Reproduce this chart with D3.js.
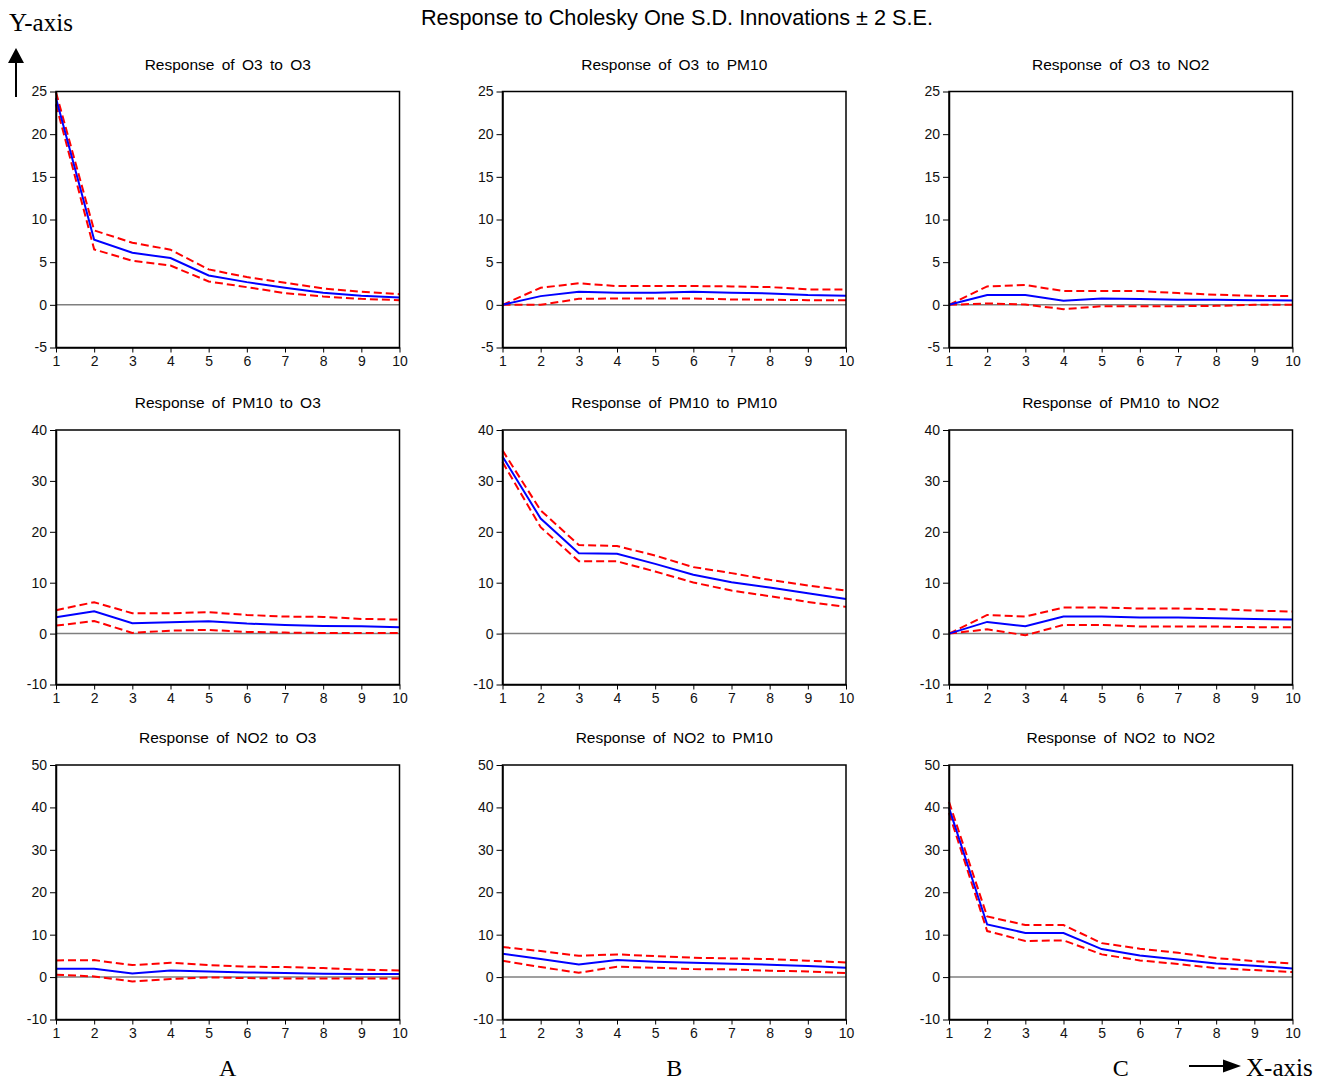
<!DOCTYPE html>
<html>
<head>
<meta charset="utf-8">
<script src="https://cdn.jsdelivr.net/npm/d3@7"></script>
<style>
  body { margin: 0; background: #fff; }
  svg { display: block; }
</style>
</head>
<body>
<svg id="chart" width="1320" height="1081"></svg>
<script>
// Impulse responses (Cholesky, one S.D.) with +/- 2 S.E. bands
const periods = [1, 2, 3, 4, 5, 6, 7, 8, 9, 10];

const o3_o3     = [24.2, 7.63, 6.1, 5.48, 3.44, 2.66, 2.0, 1.41, 1.06, 0.86];
const o3_o3_hi  = [24.9, 8.72, 7.28, 6.46, 4.15, 3.25, 2.58, 1.92, 1.53, 1.25];
const o3_o3_lo  = [23.5, 6.5, 5.16, 4.6, 2.74, 2.07, 1.37, 0.98, 0.7, 0.55];

const o3_pm     = [0, 1.02, 1.53, 1.42, 1.42, 1.53, 1.42, 1.34, 1.14, 1.06];
const o3_pm_hi  = [0, 2.0, 2.52, 2.2, 2.2, 2.2, 2.16, 2.08, 1.81, 1.81];
const o3_pm_lo  = [0, 0.0, 0.7, 0.75, 0.75, 0.75, 0.63, 0.59, 0.55, 0.55];

const o3_no2    = [0, 1.14, 1.14, 0.47, 0.75, 0.67, 0.59, 0.59, 0.55, 0.51];
const o3_no2_hi = [0, 2.16, 2.32, 1.61, 1.61, 1.61, 1.38, 1.18, 1.06, 1.02];
const o3_no2_lo = [0, 0.16, 0.04, -0.51, -0.16, -0.16, -0.16, -0.12, 0.0, 0.0];

const pm_o3     = [3.2, 4.4, 2.03, 2.23, 2.43, 1.97, 1.71, 1.51, 1.44, 1.25];
const pm_o3_hi  = [4.6, 6.17, 4.0, 4.0, 4.2, 3.67, 3.35, 3.28, 2.89, 2.76];
const pm_o3_lo  = [1.57, 2.49, 0.13, 0.59, 0.72, 0.33, 0.2, 0.13, 0.13, 0.13];

const pm_pm     = [34.8, 22.6, 15.8, 15.7, 13.7, 11.55, 10.1, 9.06, 7.94, 6.82];
const pm_pm_hi  = [36.0, 24.2, 17.4, 17.2, 15.35, 13.06, 11.88, 10.56, 9.45, 8.46];
const pm_pm_lo  = [33.7, 20.9, 14.2, 14.2, 12.2, 10.04, 8.46, 7.35, 6.23, 5.25];

const pm_no2    = [0, 2.3, 1.44, 3.35, 3.35, 3.15, 3.15, 3.02, 2.89, 2.76];
const pm_no2_hi = [0, 3.67, 3.35, 5.12, 5.12, 4.92, 4.92, 4.79, 4.53, 4.33];
const pm_no2_lo = [0, 0.85, -0.33, 1.71, 1.71, 1.38, 1.38, 1.38, 1.25, 1.25];

const no2_o3     = [1.97, 1.97, 0.86, 1.57, 1.34, 1.1, 0.94, 0.79, 0.71, 0.71];
const no2_o3_hi  = [3.93, 4.0, 2.83, 3.38, 2.83, 2.44, 2.36, 2.12, 1.73, 1.57];
const no2_o3_lo  = [0.55, 0.16, -1.02, -0.47, -0.08, -0.24, -0.31, -0.31, -0.31, -0.31];

const no2_pm     = [5.5, 4.25, 2.99, 4.0, 3.62, 3.38, 3.14, 2.91, 2.6, 2.2];
const no2_pm_hi  = [7.08, 6.13, 5.03, 5.35, 4.95, 4.56, 4.4, 4.25, 3.85, 3.46];
const no2_pm_lo  = [3.85, 2.36, 1.02, 2.44, 2.2, 1.89, 1.81, 1.49, 1.34, 0.94];

const no2_no2    = [39.9, 12.4, 10.4, 10.4, 6.6, 5.1, 4.17, 3.22, 2.67, 2.04];
const no2_no2_hi = [41.3, 14.3, 12.26, 12.26, 8.0, 6.68, 5.74, 4.48, 3.77, 3.22];
const no2_no2_lo = [38.7, 10.85, 8.5, 8.65, 5.35, 3.93, 3.07, 2.12, 1.65, 1.18];

const variables = ['O3', 'PM10', 'NO2'];
const rowDomains = [[-5, 25], [-10, 40], [-10, 50]];
const rowTicks = [[-5, 0, 5, 10, 15, 20, 25], [-10, 0, 10, 20, 30, 40], [-10, 0, 10, 20, 30, 40, 50]];
const columnLabels = ['A', 'B', 'C'];

const mid = [[o3_o3, o3_pm, o3_no2], [pm_o3, pm_pm, pm_no2], [no2_o3, no2_pm, no2_no2]];
const hi  = [[o3_o3_hi, o3_pm_hi, o3_no2_hi], [pm_o3_hi, pm_pm_hi, pm_no2_hi], [no2_o3_hi, no2_pm_hi, no2_no2_hi]];
const lo  = [[o3_o3_lo, o3_pm_lo, o3_no2_lo], [pm_o3_lo, pm_pm_lo, pm_no2_lo], [no2_o3_lo, no2_pm_lo, no2_no2_lo]];

// layout of the 3x3 grid
const colLeft = [56, 502.5, 949];
const plotW = 343.5;
const rowTop = [91.5, 430, 765];
const rowBot = [347.5, 684.5, 1019.5];

const svg = d3.select('#chart');
const sans = 'Liberation Sans, Arial, sans-serif';
const serif = 'Liberation Serif, Times New Roman, serif';

svg.append('text')
  .attr('x', 677).attr('y', 25)
  .attr('text-anchor', 'middle')
  .attr('font-family', sans).attr('font-size', 21.7)
  .text('Response to Cholesky One S.D. Innovations \u00b1 2 S.E.');

const hyphenFmt = d => String(d).replace('\u2212', '-');

for (let r = 0; r < 3; r++) {
  for (let c = 0; c < 3; c++) {
    const x0 = colLeft[c], y0 = rowTop[r], h = rowBot[r] - rowTop[r];
    const g = svg.append('g').attr('transform', `translate(${x0},${y0})`);

    const x = d3.scaleLinear().domain([1, 10]).range([0, plotW]);
    const y = d3.scaleLinear().domain(rowDomains[r]).range([h, 0]);

    g.append('text')
      .attr('x', plotW / 2).attr('y', -22)
      .attr('text-anchor', 'middle')
      .attr('font-family', sans).attr('font-size', 15.5)
      .attr('word-spacing', 3)
      .text(`Response of ${variables[r]} to ${variables[c]}`);

    // zero line
    g.append('line')
      .attr('x1', 0).attr('x2', plotW)
      .attr('y1', y(0)).attr('y2', y(0))
      .attr('stroke', '#7f7f7f').attr('stroke-width', 1.5);

    const line = d3.line().x((d, i) => x(periods[i])).y(d => y(d));

    [hi[r][c], lo[r][c]].forEach(s => {
      g.append('path').datum(s)
        .attr('d', line)
        .attr('fill', 'none').attr('stroke', '#ff0000')
        .attr('stroke-width', 2).attr('stroke-dasharray', '8,4');
    });
    g.append('path').datum(mid[r][c])
      .attr('d', line)
      .attr('fill', 'none').attr('stroke', '#0000ff').attr('stroke-width', 2);

    // frame
    g.append('rect')
      .attr('width', plotW).attr('height', h)
      .attr('fill', 'none').attr('stroke', '#000').attr('stroke-width', 1.5);

    const yAxis = g.append('g')
      .call(d3.axisLeft(y).tickValues(rowTicks[r]).tickSize(6).tickSizeOuter(0).tickPadding(3)
        .tickFormat(d => hyphenFmt(d)));
    const xAxis = g.append('g').attr('transform', `translate(0,${h})`)
      .call(d3.axisBottom(x).tickValues(periods).tickSize(5).tickSizeOuter(0).tickPadding(4)
        .tickFormat(d3.format('d')));

    [yAxis, xAxis].forEach(a => {
      a.attr('font-size', 14).attr('font-family', sans);
      a.select('.domain').attr('stroke', '#000').attr('stroke-width', 1.5);
      a.selectAll('.tick line').attr('stroke', '#000').attr('stroke-width', 1);
      a.selectAll('.tick text').attr('fill', '#111');
    });
  }
}

// column letters
columnLabels.forEach((t, c) => {
  svg.append('text')
    .attr('x', colLeft[c] + plotW / 2).attr('y', 1076)
    .attr('text-anchor', 'middle')
    .attr('font-family', serif).attr('font-size', 24)
    .text(t);
});

// axis annotations
svg.append('text').attr('x', 9).attr('y', 31)
  .attr('font-family', serif).attr('font-size', 25).text('Y-axis');
svg.append('line').attr('x1', 16).attr('x2', 16).attr('y1', 97).attr('y2', 62)
  .attr('stroke', '#000').attr('stroke-width', 2);
svg.append('path').attr('d', 'M8,63 L24,63 L16,48 Z').attr('fill', '#000');

svg.append('line').attr('x1', 1189).attr('x2', 1225).attr('y1', 1066).attr('y2', 1066)
  .attr('stroke', '#000').attr('stroke-width', 2);
svg.append('path').attr('d', 'M1223,1059.5 L1223,1072.5 L1241,1066 Z').attr('fill', '#000');
svg.append('text').attr('x', 1246).attr('y', 1076)
  .attr('font-family', serif).attr('font-size', 25).text('X-axis');
</script>
</body>
</html>
